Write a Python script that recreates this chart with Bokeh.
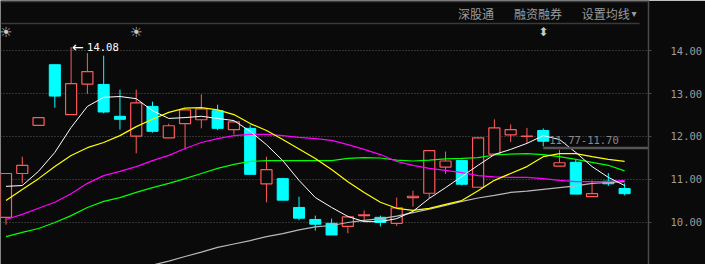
import numpy as np
from bokeh.plotting import figure
from bokeh.models import Range1d, FixedTicker, NumeralTickFormatter
from bokeh.core.properties import value
from bokeh.embed import file_html
from bokeh.resources import INLINE

# ---------------- data ----------------
opens = [10.12, 11.14, 12.26, 13.67, 12.51, 13.22, 13.21, 12.47, 12.01, 12.70,
         11.97, 12.30, 12.39, 12.60, 12.16, 12.19, 10.90, 11.02, 10.35, 10.07,
         9.98, 9.91, 10.16, 10.12, 9.98, 10.58, 10.68, 11.29, 11.44, 10.82,
         11.59, 12.04, 12.00, 12.14, 11.31, 11.40, 10.60, 10.96, 10.79]
highs = [11.14, 11.53, 12.44, 13.67, 14.08, 13.94, 13.88, 13.09, 13.09, 12.81,
         12.30, 12.64, 12.98, 12.74, 12.36, 12.26, 11.53, 11.04, 10.60, 10.16,
         10.09, 10.16, 10.28, 10.16, 10.58, 10.74, 11.67, 11.65, 11.46, 11.99,
         12.40, 12.28, 12.20, 12.19, 11.69, 11.46, 10.98, 11.15, 10.91]
lows = [9.95, 10.91, 12.26, 12.67, 12.51, 12.99, 12.54, 12.16, 11.61, 12.09,
        11.97, 11.70, 12.19, 12.15, 12.05, 11.12, 10.47, 10.52, 10.05, 9.81,
        9.71, 9.75, 10.04, 9.91, 9.92, 10.37, 10.57, 11.13, 10.86, 10.82,
        11.59, 11.87, 11.85, 11.77, 11.31, 10.66, 10.60, 10.85, 10.63]
closes = [11.14, 11.33, 12.44, 12.94, 13.23, 13.51, 12.57, 12.40, 12.78, 12.12,
          12.25, 12.62, 12.64, 12.19, 12.34, 11.12, 11.23, 10.52, 10.10, 9.96,
          9.71, 10.13, 10.18, 10.00, 10.34, 10.61, 11.67, 11.43, 10.89, 11.97,
          12.20, 12.16, 12.01, 11.89, 11.39, 10.66, 10.67, 10.90, 10.67]

ma5 = [10.84, 10.86, 11.19, 11.63, 12.21, 12.70, 12.91, 12.93, 12.88, 12.60,
       12.42, 12.44, 12.47, 12.42, 12.37, 12.12, 11.81, 11.44, 10.98, 10.58,
       10.35, 10.14, 10.02, 10.02, 10.09, 10.26, 10.56, 10.81, 11.07, 11.33,
       11.58, 11.70, 11.84, 12.02, 11.93, 11.63, 11.30, 11.05, 10.86]
ma10 = [10.51, 10.77, 11.02, 11.30, 11.56, 11.74, 11.86, 12.02, 12.23, 12.40,
        12.56, 12.66, 12.67, 12.62, 12.51, 12.30, 12.14, 11.93, 11.71, 11.49,
        11.23, 10.95, 10.70, 10.47, 10.33, 10.28, 10.33, 10.42, 10.51, 10.74,
        10.98, 11.14, 11.30, 11.53, 11.60, 11.60, 11.53, 11.47, 11.42]
ma20 = [10.07, 10.19, 10.33, 10.47, 10.67, 10.91, 11.09, 11.19, 11.30, 11.44,
        11.56, 11.72, 11.86, 11.95, 12.02, 12.05, 12.05, 12.02, 11.98, 11.95,
        11.91, 11.81, 11.70, 11.58, 11.42, 11.33, 11.26, 11.21, 11.16, 11.09,
        11.06, 11.05, 11.05, 11.02, 10.98, 10.95, 10.95, 10.95, 10.98]
ma30 = [9.67, 9.77, 9.86, 10.00, 10.16, 10.35, 10.49, 10.58, 10.70, 10.81,
        10.91, 11.02, 11.14, 11.26, 11.35, 11.42, 11.44, 11.44, 11.44, 11.44,
        11.44, 11.49, 11.51, 11.50, 11.45, 11.43, 11.45, 11.48, 11.49, 11.51,
        11.57, 11.59, 11.60, 11.58, 11.53, 11.47, 11.40, 11.33, 11.20]
ma60 = [None, None, None, None, None, None, None, None, 8.92, 9.01,
        9.10, 9.21, 9.31, 9.42, 9.50, 9.58, 9.67, 9.74, 9.83, 9.90,
        9.93, 10.00, 10.05, 10.09, 10.15, 10.23, 10.31, 10.40, 10.49, 10.57,
        10.63, 10.70, 10.73, 10.77, 10.81, 10.85, 10.91, 10.93, 10.95]

y_ticks = [9.0, 10.0, 11.0, 12.0, 13.0, 14.0]
header_tabs = ["深股通", "融资融券", "设置均线"]
event_sun = [0, 8]
event_arrow = [33]
range_start = 33
range_hi, range_lo = 11.77, 11.70

# ---------------- styling / layout ----------------
BG = "#0a0a0a"
RED = "#ff5a5a"
CYAN = "#00ffff"
GRID = "#5a5a5a"
TXT = "#9c9c9c"
W, H, FW = 705, 264, 650
X0, X1 = -0.337, 39.467
Y0, Y1 = 9.023, 15.163


def dx(px):
    return X0 + px / FW * (X1 - X0)


def dy(py):
    return Y1 - py / H * (Y1 - Y0)


idx = np.arange(len(opens))
o = np.array(opens); c = np.array(closes); h = np.array(highs); l = np.array(lows)
up = c >= o
dn = ~up

p = figure(width=W, height=H, x_range=Range1d(X0, X1), y_range=Range1d(Y0, Y1),
           output_backend="svg", toolbar_location=None,
           y_axis_location="right", x_axis_location=None,
           background_fill_color=BG, border_fill_color=BG,
           min_border=0, min_border_right=W - FW, outline_line_color=None)

ax = p.yaxis[0]
ax.ticker = FixedTicker(ticks=y_ticks)
ax.formatter = NumeralTickFormatter(format="0.00")
ax.axis_line_color = "#4a4a4a"
ax.axis_line_width = 1.5
ax.major_tick_line_color = "#4a4a4a"
ax.major_tick_in = 0
ax.major_tick_out = 3
ax.minor_tick_line_color = None
ax.major_label_standoff = 19
ax.major_label_text_color = TXT
ax.major_label_text_font = "DejaVu Sans Mono"
ax.major_label_text_font_size = "10.5px"

p.xgrid.visible = False
p.ygrid.ticker = FixedTicker(ticks=y_ticks)
p.ygrid.grid_line_color = GRID
p.ygrid.grid_line_dash = "1 2"
p.ygrid.grid_line_width = 1

# header
p.segment(x0=[dx(0)], y0=[dy(1)], x1=[dx(FW)], y1=[dy(1)], line_color="#3a3a3a", line_width=1.5)
p.segment(x0=[dx(0)], y0=[dy(23)], x1=[dx(641)], y1=[dy(23)], line_color="#3a3a3a", line_width=1.5)
p.text(x=[dx(459), dx(515), dx(583)], y=[dy(13)] * 3, text=header_tabs,
       text_font=value("Noto Sans CJK SC"), text_font_size=value("12px"),
       text_color=TXT, text_baseline="middle", text_align="left")
p.text(x=[dx(633)], y=[dy(13)], text=["▾"], text_font=value("DejaVu Sans"),
       text_font_size=value("10px"), text_color=TXT, text_baseline="middle", text_align="left")

# wicks
wick_col = [RED if u else CYAN for u in up]
p.segment(x0=idx, y0=l, x1=idx, y1=h, line_color=wick_col, line_width=1)

BW = 0.68
p.vbar(x=idx[up], width=BW, top=np.maximum(o, c)[up], bottom=np.minimum(o, c)[up],
       fill_color=BG, line_color=RED, line_width=1.2)
p.vbar(x=idx[dn], width=BW, top=o[dn], bottom=c[dn],
       fill_color=CYAN, line_color=CYAN, line_width=1)

# moving averages
ma60f = np.array([np.nan if v is None else v for v in ma60])
p.line(idx, ma60f, line_color="#b8b8b8", line_width=1.2)
p.line(idx, ma30, line_color="#00ff00", line_width=1.2)
p.line(idx, ma20, line_color="#ff00ff", line_width=1.2)
p.line(idx, ma10, line_color="#ffff00", line_width=1.2)
p.line(idx, ma5, line_color="#ffffff", line_width=1)

# events
p.text(x=event_sun, y=[dy(31)] * len(event_sun), text=["☀"] * len(event_sun),
       text_font=value("DejaVu Sans"), text_font_size=value("14px"), text_color="#c8c8c8",
       text_align="center", text_baseline="middle")
p.text(x=event_arrow, y=[dy(31)] * len(event_arrow), text=["⬍"] * len(event_arrow),
       text_font=value("DejaVu Sans"), text_font_size=value("12px"), text_color="#c8c8c8",
       text_align="center", text_baseline="middle")

# highest price marker
imax = int(np.argmax(h))
p.text(x=[imax], y=[h[imax]], text=["←"], x_offset=1, text_font=value("DejaVu Sans"),
       text_font_size=value("14px"), text_color="#ffffff", text_align="left", text_baseline="middle")
p.text(x=[imax], y=[h[imax]], text=[f"{h[imax]:.2f}"], x_offset=16, text_font=value("DejaVu Sans Mono"),
       text_font_size=value("10.5px"), text_color="#ffffff", text_align="left", text_baseline="middle")

# range line
ymid = (range_hi + range_lo) / 2
p.segment(x0=[range_start], y0=[ymid], x1=[dx(FW)], y1=[ymid], line_color="#555555", line_width=2.5)
p.text(x=[range_start], y=[ymid], text=[f"{range_hi:.2f}-{range_lo:.2f}"], x_offset=6, y_offset=-8,
       text_font=value("DejaVu Sans Mono"), text_font_size=value("10.5px"), text_color="#8a8a8a",
       text_align="left", text_baseline="middle")

open("out.html", "w").write(file_html(p, INLINE))
